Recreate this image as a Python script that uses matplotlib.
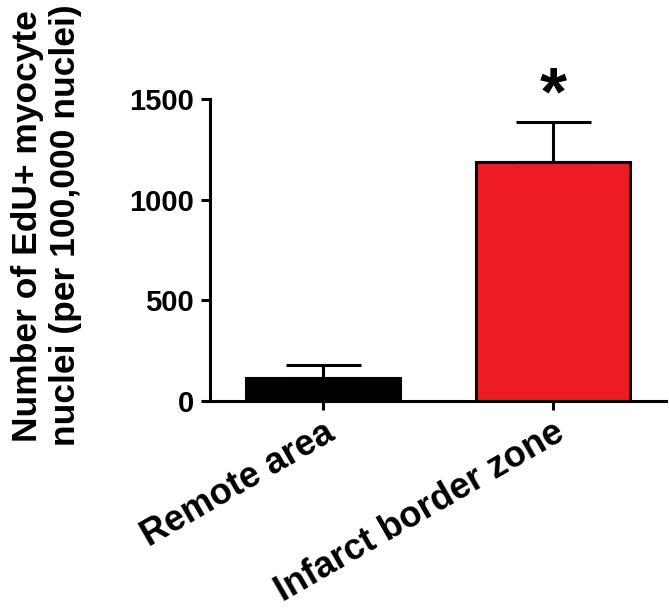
import matplotlib
matplotlib.use('Agg')
import matplotlib.pyplot as plt
from matplotlib.transforms import ScaledTranslation

# data
groups = ['Remote area', 'Infarct border zone']
means = [115, 1185]
sems = [63, 200]
colors = ['#000000', '#ED1C24']
y_ticks = [0, 500, 1000, 1500]

plt.rcParams['font.family'] = ['Liberation Sans', 'DejaVu Sans']
plt.rcParams['font.weight'] = 'bold'

fig = plt.figure(figsize=(6.69, 6.08), dpi=100)
ax = fig.add_axes([0.314, 0.341, 0.6815, 0.496])

x = list(range(len(groups)))
ax.bar(x, means, width=0.67, color=colors, edgecolor='black', linewidth=2.2, zorder=2)
ax.errorbar(x, means, yerr=[[0] * len(sems), sems], fmt='none', ecolor='black',
            elinewidth=2.2, capsize=27, capthick=2.2, zorder=1)

# significance mark
ax.text(1, 1515, '*', ha='center', va='center', fontsize=50, fontweight='bold', clip_on=False)

ax.set_xlim(-0.49, 1.49)
ax.set_ylim(0, 1500)
ax.set_yticks(y_ticks)
ax.set_xticks(x)
ax.set_xticklabels(groups, rotation=30, ha='right', va='top', rotation_mode='anchor', fontsize=26)
shift = ScaledTranslation(-6 / 100, 0, fig.dpi_scale_trans)
for lab in ax.get_xticklabels():
    lab.set_transform(lab.get_transform() + shift)
ax.tick_params(axis='y', labelsize=21, width=2.2, length=6.5, pad=5)
ax.tick_params(axis='x', width=2.2, length=6.5, pad=4)

for s in ['top', 'right']:
    ax.spines[s].set_visible(False)
for s in ['left', 'bottom']:
    ax.spines[s].set_linewidth(2.2)

fig.text(0.07, 0.629, 'Number of EdU+ myocyte\nnuclei (per 100,000 nuclei)', rotation=90,
         ha='center', va='center', multialignment='center', fontsize=25.5, fontweight='bold')

fig.savefig('out.png', dpi=100)
